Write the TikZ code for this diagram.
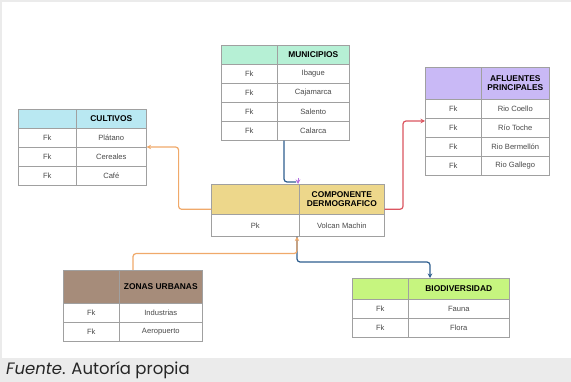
\documentclass[tikz,border=0pt]{standalone}
\usepackage{fontspec}
\usetikzlibrary{arrows.meta}
\newfontfamily\bodyfont{Liberation Sans}
\newfontfamily\capfont{Poppins}
\definecolor{gridc}{HTML}{A0A0A0}
\definecolor{bodyc}{HTML}{4A4A4A}
\definecolor{bandgray}{HTML}{EBEBEB}
\definecolor{mint}{HTML}{B6F0D5}
\definecolor{cyanh}{HTML}{B9E8F2}
\definecolor{lav}{HTML}{C9B9F6}
\definecolor{gold}{HTML}{EDD78B}
\definecolor{brownh}{HTML}{A68C7A}
\definecolor{lime}{HTML}{C6F57F}
\definecolor{bluel}{HTML}{2F5F8F}
\definecolor{orl}{HTML}{F0A96A}
\definecolor{redl}{HTML}{DB5560}
\definecolor{purp}{HTML}{B46FE0}
\tikzset{
  cell/.style={draw=gridc, line width=0.6pt, fill=white, anchor=north west, inner sep=0pt,
    font=\bodyfont\fontsize{7.6}{9}\selectfont, text=bodyc},
  hd/.style={cell, font=\bodyfont\bfseries\fontsize{8.4}{9.6}\selectfont, text=black, align=center},
  conn/.style={line width=1.2pt, rounded corners=3pt},
  tip/.style={-{Stealth[length=4.5pt,width=4.5pt]}},
}
\begin{document}
\begin{tikzpicture}[x=1pt,y=-1pt]
\useasboundingbox (0,0) rectangle (571,382);
\fill[bandgray] (0,0) rectangle (571,382);
\fill[white] (1.5,2) rectangle (571,358);
\node[anchor=base west, inner sep=0pt, font=\capfont\fontsize{16.5}{19}\selectfont, text=black!85] (cap) at (6,374.5) {\textit{Fuente}. Autoría propia};

% MUNICIPIOS
\node[hd, fill=mint, minimum width=56pt, minimum height=19pt] (m0a) at (221,45) {};
\node[hd, fill=mint, minimum width=72pt, minimum height=19pt] (m0b) at (277,45) {MUNICIPIOS};
\node[cell, minimum width=56pt, minimum height=19pt] (m1a) at (221,64) {Fk};
\node[cell, minimum width=72pt, minimum height=19pt] (m1b) at (277,64) {Ibague};
\node[cell, minimum width=56pt, minimum height=19pt] (m2a) at (221,83) {Fk};
\node[cell, minimum width=72pt, minimum height=19pt] (m2b) at (277,83) {Cajamarca};
\node[cell, minimum width=56pt, minimum height=19pt] (m3a) at (221,102) {Fk};
\node[cell, minimum width=72pt, minimum height=19pt] (m3b) at (277,102) {Salento};
\node[cell, minimum width=56pt, minimum height=19pt] (m4a) at (221,121) {Fk};
\node[cell, minimum width=72pt, minimum height=19pt] (m4b) at (277,121) {Calarca};

% CULTIVOS
\node[hd, fill=cyanh, minimum width=58pt, minimum height=19pt] (k0a) at (18,109) {};
\node[hd, fill=cyanh, minimum width=70pt, minimum height=19pt] (k0b) at (76,109) {CULTIVOS};
\node[cell, minimum width=58pt, minimum height=19pt] (k1a) at (18,128) {Fk};
\node[cell, minimum width=70pt, minimum height=19pt] (k1b) at (76,128) {Plátano};
\node[cell, minimum width=58pt, minimum height=19pt] (k2a) at (18,147) {Fk};
\node[cell, minimum width=70pt, minimum height=19pt] (k2b) at (76,147) {Cereales};
\node[cell, minimum width=58pt, minimum height=19pt] (k3a) at (18,166) {Fk};
\node[cell, minimum width=70pt, minimum height=19pt] (k3b) at (76,166) {Café};

% AFLUENTES PRINCIPALES
\node[hd, fill=lav, minimum width=56pt, minimum height=32pt] (a0a) at (425,67) {};
\node[hd, fill=lav, minimum width=68pt, minimum height=32pt] (a0b) at (481,67) {AFLUENTES\\PRINCIPALES};
\node[cell, minimum width=56pt, minimum height=19pt] (a1a) at (425,99) {Fk};
\node[cell, minimum width=68pt, minimum height=19pt] (a1b) at (481,99) {Rio Coello};
\node[cell, minimum width=56pt, minimum height=19pt] (a2a) at (425,118) {Fk};
\node[cell, minimum width=68pt, minimum height=19pt] (a2b) at (481,118) {Río Toche};
\node[cell, minimum width=56pt, minimum height=19pt] (a3a) at (425,137) {Fk};
\node[cell, minimum width=68pt, minimum height=19pt] (a3b) at (481,137) {Rio Bermellón};
\node[cell, minimum width=56pt, minimum height=19pt] (a4a) at (425,156) {Fk};
\node[cell, minimum width=68pt, minimum height=19pt] (a4b) at (481,156) {Rio Gallego};

% COMPONENTE DERMOGRAFICO
\node[hd, fill=gold, minimum width=88pt, minimum height=30pt] (c0a) at (211,184) {};
\node[hd, fill=gold, minimum width=85pt, minimum height=30pt] (c0b) at (299,184) {COMPONENTE\\DERMOGRAFICO};
\node[cell, minimum width=88pt, minimum height=22pt] (c1a) at (211,214) {Pk};
\node[cell, minimum width=85pt, minimum height=22pt] (c1b) at (299,214) {Volcan Machin};

% ZONAS URBANAS
\node[hd, fill=brownh, minimum width=56pt, minimum height=33pt] (z0a) at (63,270) {};
\node[hd, fill=brownh, minimum width=83pt, minimum height=33pt] (z0b) at (119,270) {ZONAS URBANAS};
\node[cell, minimum width=56pt, minimum height=19pt] (z1a) at (63,303) {Fk};
\node[cell, minimum width=83pt, minimum height=19pt] (z1b) at (119,303) {Industrias};
\node[cell, minimum width=56pt, minimum height=19pt] (z2a) at (63,322) {Fk};
\node[cell, minimum width=83pt, minimum height=19pt] (z2b) at (119,322) {Aeropuerto};

% BIODIVERSIDAD
\node[hd, fill=lime, minimum width=56pt, minimum height=21pt] (b0a) at (352,278) {};
\node[hd, fill=lime, minimum width=101pt, minimum height=21pt] (b0b) at (408,278) {BIODIVERSIDAD};
\node[cell, minimum width=56pt, minimum height=19pt] (b1a) at (352,299) {Fk};
\node[cell, minimum width=101pt, minimum height=19pt] (b1b) at (408,299) {Fauna};
\node[cell, minimum width=56pt, minimum height=19pt] (b2a) at (352,318) {Fk};
\node[cell, minimum width=101pt, minimum height=19pt] (b2b) at (408,318) {Flora};

% connectors
\coordinate (k1) at ([xshift=-3pt,yshift=2pt]c0b.north west);
\draw[conn, bluel] ([xshift=7pt]m4b.south west) |- (k1);
\draw[purp, line width=0.8pt, tip] ([xshift=-1pt,yshift=6pt]c0b.north west) -- ([xshift=-1pt]c0b.north west);

\draw[conn, orl, tip] ([yshift=-10pt]c0a.west) -| ([xshift=32pt]k2b.north east) -- (k2b.north east);

\coordinate (t3) at ([yshift=-3pt]a2a.north west);
\draw[conn, redl, tip] ([yshift=-10pt]c0b.east) -| ([xshift=-22pt]t3) -- (t3);

\coordinate (d4) at ([xshift=22pt]b0b.north west);
\draw[conn, bluel, tip] ([xshift=-2pt]c1b.south west) |- ([yshift=16pt]d4) -- (d4);

\coordinate (f5) at ([xshift=-2pt]c1b.south west);
\draw[conn, orl, tip] ([xshift=14pt]z0b.north west) |- ([yshift=-17pt]f5) -- (f5);
\end{tikzpicture}
\end{document}
